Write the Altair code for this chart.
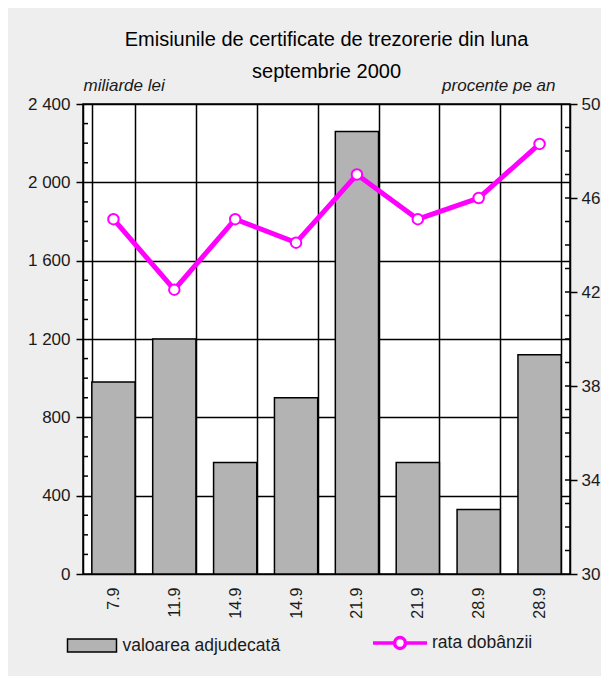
import altair as alt
import pandas as pd

# ---- data ----
date_labels = ["7.9", "11.9", "14.9", "14.9", "21.9", "21.9", "28.9", "28.9"]
amounts = [980, 1200, 570, 900, 2260, 570, 330, 1120]          # miliarde lei
rates = [45.1, 42.1, 45.1, 44.1, 47.0, 45.1, 46.0, 48.3]       # procente pe an
left_ticks = [0, 400, 800, 1200, 1600, 2000, 2400]
left_minor = [100, 200, 300, 500, 600, 700, 900, 1000, 1100, 1300, 1400, 1500,
              1700, 1800, 1900, 2100, 2200, 2300]
right_ticks = [30, 34, 38, 42, 46, 50]
right_minor = [31, 32, 33, 34, 35, 36, 37, 38, 39, 40, 41, 42, 43, 44, 45, 46,
               47, 48, 49]
bar_name = "valoarea adjudecată"
line_name = "rata dobânzii"

df = pd.DataFrame({
    "i": list(range(len(date_labels))),
    "amount": amounts,
    "rate": rates,
    "s1": [bar_name] * len(date_labels),
    "s2": [line_name] * len(date_labels),
})
df_lminor = pd.DataFrame({"v": left_minor})
df_rminor = pd.DataFrame({"v": right_minor})

FONT = "Liberation Sans"
W, H = 487, 470
label_expr = "[" + ",".join("'%s'" % s for s in date_labels) + "][datum.value]"

left_scale = alt.Scale(domain=[0, 2400], nice=False, zero=True)
right_scale = alt.Scale(domain=[30, 50], nice=False, zero=False)
x_scale = alt.Scale(paddingInner=0.29, paddingOuter=0.145)

x_axis = alt.Axis(
    title=None, labelExpr=label_expr, labelAngle=270, labelAlign="right",
    labelBaseline="middle", labelFontSize=16,
    labelFont=FONT, labelColor="#1a1a1a", labelPadding=13, ticks=False, tickSize=0,
    domain=False, grid=True, gridColor="black", gridWidth=1.5, tickBand="extent",
)
x_enc = alt.X("i:O", scale=x_scale, axis=x_axis)

left_axis = alt.Axis(
    orient="left", values=left_ticks, title="miliarde lei", titleAngle=0,
    titleAlign="left", titleBaseline="alphabetic", titleX=0, titleY=-14,
    titleFont=FONT, titleFontSize=17, titleFontStyle="italic", titleFontWeight="normal",
    titleColor="#1a1a1a",
    labelExpr="replace(format(datum.value, ','), ',', ' ')",
    labelFont=FONT, labelFontSize=17, labelColor="#1a1a1a", labelPadding=6,
    tickSize=7, tickColor="black", tickWidth=1.5,
    domain=True, domainColor="black", domainWidth=1.5,
    grid=True, gridColor="black", gridWidth=1.5,
)

right_axis = alt.Axis(
    orient="right", values=right_ticks, title="procente pe an", titleAngle=0,
    titleAlign="right", titleBaseline="alphabetic", titleX=-15, titleY=-14,
    titleFont=FONT, titleFontSize=17, titleFontStyle="italic", titleFontWeight="normal",
    titleColor="#1a1a1a",
    labelFont=FONT, labelFontSize=17, labelColor="#1a1a1a", labelPadding=4,
    tickSize=7, tickColor="black", tickWidth=1.5,
    domain=True, domainColor="black", domainWidth=1.5, grid=False,
)

base = alt.Chart(df)

bars = base.mark_bar(stroke="black", strokeWidth=1.5).encode(
    x=x_enc,
    y=alt.Y("amount:Q", scale=left_scale, axis=left_axis),
    fill=alt.Fill("s1:N", scale=alt.Scale(domain=[bar_name], range=["#b3b3b3"]),
                  legend=alt.Legend(
                      title=None, orient="none", legendX=-16.5, legendY=516,
                      symbolType="M-1,-0.27H1V0.27H-1Z", symbolSize=2401,
                      symbolStrokeColor="black", symbolStrokeWidth=1.5,
                      labelFont=FONT, labelFontSize=17.5, labelColor="#1a1a1a",
                      labelOffset=5, padding=0)),
)

lminor = alt.Chart(df_lminor).mark_rule(color="black", strokeWidth=1.5).encode(
    y=alt.Y("v:Q", scale=left_scale, axis=None),
    x=alt.value(0), x2=alt.value(5),
)

line = base.mark_line(strokeWidth=5).encode(
    x=x_enc,
    y=alt.Y("rate:Q", scale=right_scale, axis=right_axis),
    stroke=alt.Stroke("s2:N", scale=alt.Scale(domain=[line_name], range=["#ff00ff"]),
                      legend=alt.Legend(
                          title=None, orient="none", legendX=288, legendY=510,
                          symbolType="M-1,0H-0.2M0.2,0H1M-0.2,0A0.2,0.2,0,1,1,0.2,0A0.2,0.2,0,1,1,-0.2,0Z",
                          symbolSize=2916, symbolFillColor="white",
                          symbolStrokeWidth=3.5,
                          labelFont=FONT, labelFontSize=17.5, labelColor="#1a1a1a",
                          labelOffset=3, padding=0)),
)

points = base.mark_point(filled=True, fill="white", stroke="#ff00ff", strokeWidth=2,
                         size=110, opacity=1).encode(
    x=x_enc,
    y=alt.Y("rate:Q", scale=right_scale, axis=None),
)

rminor = alt.Chart(df_rminor).mark_rule(color="black", strokeWidth=1.5).encode(
    y=alt.Y("v:Q", scale=right_scale, axis=None),
    x=alt.value(W - 5), x2=alt.value(W),
)

chart = alt.layer(bars, lminor, line, points, rminor).resolve_scale(
    y="independent"
).properties(
    width=W, height=H,
    background="#eeeeee",
    autosize=alt.AutoSizeParams(type="none"),
    padding={"left": 75, "top": 96, "right": 31, "bottom": 102},
    title=alt.TitleParams(
        text=["Emisiunile de certificate de trezorerie din luna", "septembrie 2000"],
        font=FONT, fontSize=20, fontWeight="normal", color="black",
        lineHeight=31.6, anchor="middle", dy=10,
    ),
).configure_view(
    fill="white", stroke="black", strokeWidth=1.5
)

chart.save("out.html", embed_options={"renderer": "svg", "actions": False})
